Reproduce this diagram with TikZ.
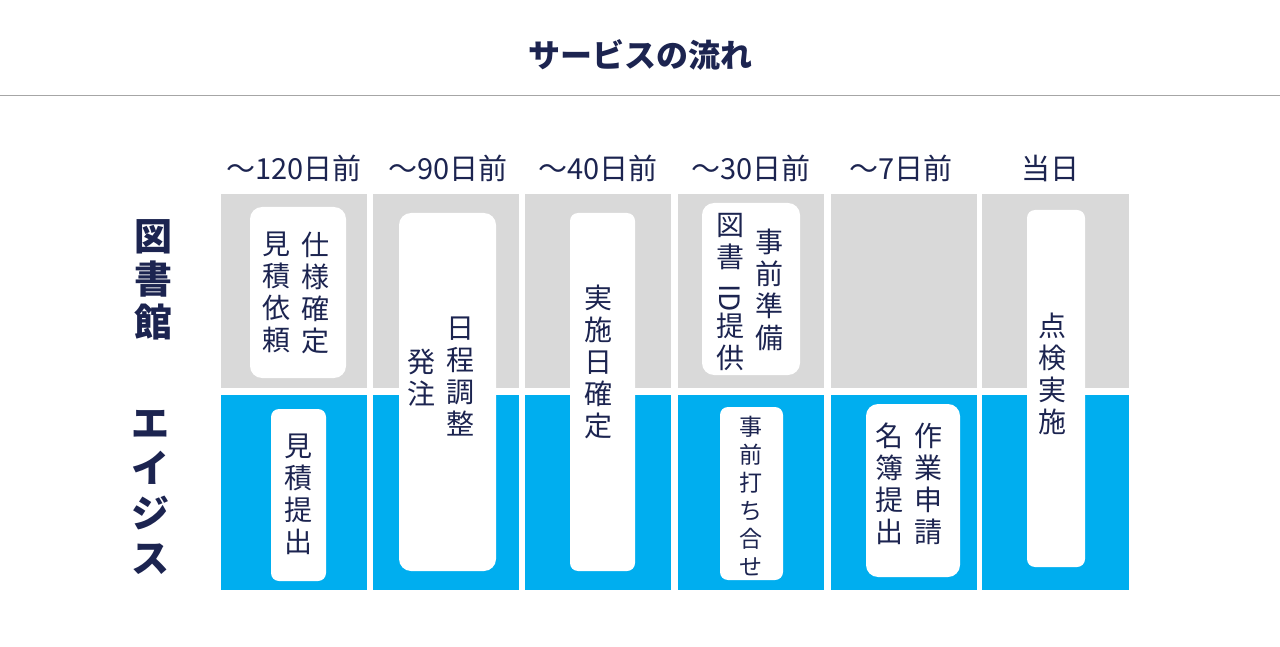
\documentclass[tikz,border=0pt]{standalone}
\usepackage{fontspec}
\setmainfont{Noto Sans CJK JP}
\begin{document}
\begin{tikzpicture}[x=1pt,y=-1pt,
  txt/.style={text=navy,inner sep=0pt},
  vt/.style={txt,align=center,font=\fontsize{28}{32}\selectfont},
  vts/.style={txt,align=center,font=\fontsize{23}{28}\selectfont},
  hd/.style={txt,font=\fontsize{29}{32}\selectfont},
  gray cell/.style={fill=cellgray},
  blue cell/.style={fill=cellblue},
  wb/.style={fill=white,rounded corners=12pt}]
\definecolor{navy}{HTML}{1C2450}
\definecolor{cellgray}{HTML}{D9D9D9}
\definecolor{cellblue}{HTML}{00AEEF}
\useasboundingbox (0,0) rectangle (1280,647);
\node[txt,font=\fontsize{32}{36}\selectfont\bfseries] (title) at (640,55) {サービスの流れ};
\draw[gray!70,line width=0.8pt] (0,95) -- (1280,95);
% cells
\foreach \a/\b [count=\i] in {221/367,373/519,525/671,678/824,831/977,982/1129}{
  \fill[gray cell] (\a,194) rectangle (\b,388);
  \fill[blue cell] (\a,395) rectangle (\b,590);
}
% headers
\node[hd] (h1) at (294,168) {～120日前};
\node[hd] (h2) at (448,168) {～90日前};
\node[hd] (h3) at (598,168) {～40日前};
\node[hd] (h4) at (751,168) {～30日前};
\node[hd] (h5) at (901,168) {～7日前};
\node[hd] (h6) at (1050,168) {当日};
% side labels
\node[txt,align=center,font=\fontsize{38}{43}\selectfont\bfseries] (lib) at (153,280) {図\\書\\館};
\node[txt,align=center,font=\fontsize{38}{45}\selectfont\bfseries] (ajs) at (150,492) {エ\\イ\\ジ\\ス};
% white boxes
\fill[wb] (250,207) rectangle (346,378);
\node[vt,anchor=north] (c1a) at (315,232) {仕\\様\\確\\定};
\node[vt,anchor=north] (c1b) at (276,232) {見\\積\\依\\頼};
\fill[wb,rounded corners=8pt] (271,409) rectangle (326,581);
\node[vt,anchor=north] (c1c) at (298,434) {見\\積\\提\\出};
\fill[wb] (399,213) rectangle (496,571);
\node[vt,anchor=north] (c2a) at (460,317) {日\\程\\調\\整};
\node[vt,anchor=north] (c2b) at (421,349) {発\\注};
\fill[wb,rounded corners=8pt] (570,213) rectangle (635,571);
\node[vt,anchor=north] (c3) at (598,285) {実\\施\\日\\確\\定};
\fill[wb] (702,203) rectangle (800,375);
\node[vt,anchor=north] (c4a) at (769,229) {事\\前\\準\\備};
\node[vt,anchor=north] (c4b) at (730,213) {図\\書};
\node[txt,rotate=-90,font=\fontsize{28}{32}\selectfont] (c4id) at (730,298) {ID};
\node[vt,anchor=north] (c4c) at (730,313) {提\\供};
\fill[wb,rounded corners=8pt] (720,407) rectangle (783,580);
\node[vts,anchor=north] (c4d) at (751,416) {事\\前\\打\\ち\\合\\せ};
\fill[wb] (866,404) rectangle (960,577);
\node[vt,anchor=north] (c5a) at (928,423) {作\\業\\申\\請};
\node[vt,anchor=north] (c5b) at (889,423) {名\\簿\\提\\出};
\fill[wb,rounded corners=8pt] (1027,210) rectangle (1085,567);
\node[vt,anchor=north] (c6) at (1052,313) {点\\検\\実\\施};
\end{tikzpicture}
\end{document}
